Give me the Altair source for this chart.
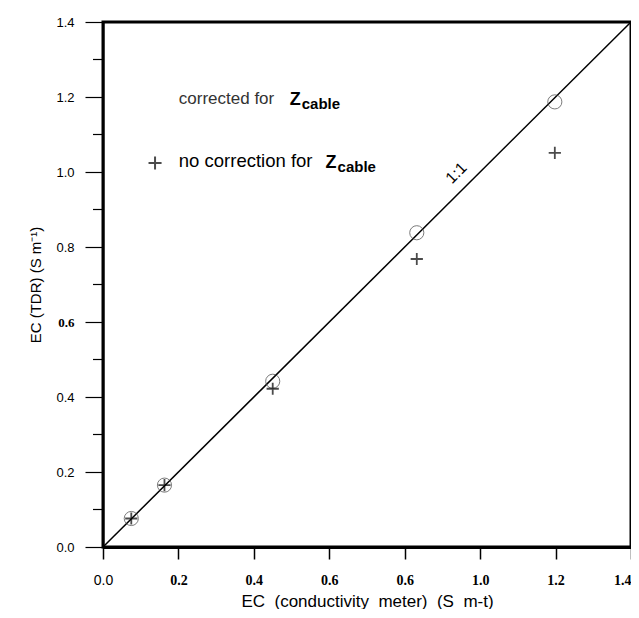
import json
import altair as alt
import pandas as pd

# ---- data ----
ec_meter = [0.075, 0.163, 0.450, 0.832, 1.198]
ec_tdr_corrected = [0.076, 0.165, 0.442, 0.838, 1.187]
ec_tdr_uncorrected = [0.076, 0.165, 0.422, 0.768, 1.051]

one_to_one = [0.0, 1.4]

x_tick_values = [round(i * 0.1, 1) for i in range(15)]
y_major_values = [round(i * 0.2, 1) for i in range(8)]
y_minor_values = [round(i * 0.2 + 0.1, 1) for i in range(7)]
x_tick_labels = ["0.0", "0.2", "0.4", "0.6", "0.6", "1.0", "1.2", "1.4"]
y_tick_labels = ["0.0", "0.2", "0.4", "0.6", "0.8", "1.0", "1.2", "1.4"]

NB = "\u00a0"
x_title = f"EC{NB} (conductivity{NB} meter){NB} (S{NB} m-t)"
y_title = "EC (TDR) (S m\u207b\u00b9)"

pts = pd.DataFrame({"x": ec_meter, "yc": ec_tdr_corrected, "yu": ec_tdr_uncorrected})
line_df = pd.DataFrame({"x": one_to_one, "y": one_to_one})
minor_df = pd.DataFrame({"v": y_minor_values})

W, H = 528, 525
dom = [0, 1.4]

xscale = alt.Scale(domain=dom, nice=False, zero=False)
yscale = alt.Scale(domain=dom, nice=False, zero=False)

even = "round(datum.value*10) % 2 == 0"

x_axis = alt.Axis(
    values=x_tick_values,
    labelExpr=f"{even} ? {json.dumps(x_tick_labels)}[round(datum.value*5)] : ''",
    ticks=True, tickSize=12, tickWidth=1.5, tickColor="black",
    labelPadding=14, labelFontSize=14, labelColor="black",
    labelFont={"condition": {"test": "datum.value < 0.05", "value": "Liberation Sans"}, "value": "Liberation Serif"},
    labelFontWeight={"condition": {"test": "datum.value < 0.05", "value": "normal"}, "value": "bold"},
    labelAlign={"condition": {"test": "datum.value > 1.35", "value": "right"}, "value": "center"},
    domain=True, domainColor="black", domainWidth=3,
    grid=False, title=x_title, titleFont="Liberation Sans",
    titleFontSize=17, titleFontWeight="normal", titleColor="black", titlePadding=6,
    labelFlush=False, labelOverlap=False,
)

y_axis = alt.Axis(
    values=y_major_values,
    labelExpr=f"{json.dumps(y_tick_labels)}[round(datum.value*5)]",
    ticks=True, tickSize=18, tickWidth=1.2, tickColor="black",
    labelPadding=11, labelFontSize=13, labelColor="black",
    labelFont={"condition": {"test": "abs(datum.value-0.6) < 0.01", "value": "Liberation Serif"}, "value": "Liberation Sans"},
    labelFontWeight={"condition": {"test": "abs(datum.value-0.6) < 0.01", "value": "bold"}, "value": "normal"},
    domain=True, domainColor="black", domainWidth=2,
    grid=False, title=y_title, titleFont="Liberation Sans",
    titleFontSize=15, titleFontWeight="normal", titleColor="black", titlePadding=12,
    labelFlush=False, labelOverlap=False,
)

base = alt.Chart(pts)

line = alt.Chart(line_df).mark_line(color="black", strokeWidth=1.5).encode(
    x=alt.X("x:Q", scale=xscale, axis=x_axis),
    y=alt.Y("y:Q", scale=yscale, axis=y_axis),
)

# minor ticks on the left axis (every 0.1 between labelled ticks)
minor = alt.Chart(minor_df).mark_rule(color="black", strokeWidth=1.2).encode(
    y=alt.Y("v:Q", scale=yscale),
    x=alt.value(-10), x2=alt.value(0),
)

circles = base.mark_point(shape="circle", size=200, filled=False, color="#444", strokeWidth=1).encode(
    x=alt.X("x:Q", scale=xscale), y=alt.Y("yc:Q", scale=yscale)
)

plus_shape = "M-1,0L1,0M0,-1L0,1"
pluses = base.mark_point(shape=plus_shape, size=150, filled=False, color="black", strokeWidth=1.8).encode(
    x=alt.X("x:Q", scale=xscale), y=alt.Y("yu:Q", scale=yscale)
)

# ---- annotations (data coordinates) ----
ann_light = pd.DataFrame({"x": [0.201], "y": [1.181], "t": ["corrected  for"]})
ann_dark = pd.DataFrame({"x": [0.201], "y": [1.013], "t": ["no correction for"]})
ann_z = pd.DataFrame({"x": [0.495, 0.590], "y": [1.179, 1.011], "t": ["Z", "Z"]})
ann_sub = pd.DataFrame({"x": [0.527, 0.622], "y": [1.168, 1.000], "t": ["cable", "cable"]})
ann_ratio = pd.DataFrame({"x": [0.937], "y": [0.997], "t": ["1:1"]})
leg_plus = pd.DataFrame({"x": [0.138], "y": [1.024]})

def txt(df, **kw):
    return alt.Chart(df).mark_text(align="left", baseline="alphabetic", **kw).encode(
        x=alt.X("x:Q", scale=xscale), y=alt.Y("y:Q", scale=yscale), text="t:N"
    )

t1 = txt(ann_light, font="Liberation Sans", fontSize=17, color="#333")
t2 = txt(ann_dark, font="Liberation Sans", fontSize=18.5, color="black")
t3 = txt(ann_z, font="Liberation Sans", fontSize=18, fontWeight="bold", color="black")
t4 = txt(ann_sub, font="Liberation Sans", fontSize=15, fontWeight="bold", color="black")
t5 = alt.Chart(ann_ratio).mark_text(align="center", baseline="middle", angle=315,
                                      font="Liberation Sans", fontSize=16, color="black").encode(
    x=alt.X("x:Q", scale=xscale), y=alt.Y("y:Q", scale=yscale), text="t:N"
)
lp = alt.Chart(leg_plus).mark_point(shape=plus_shape, size=170, filled=False, color="black", strokeWidth=2).encode(
    x=alt.X("x:Q", scale=xscale), y=alt.Y("y:Q", scale=yscale)
)

chart = alt.layer(line, minor, circles, pluses, t1, t2, t3, t4, t5, lp).properties(
    width=W, height=H,
    autosize=alt.AutoSizeParams(type="none"),
    padding={"left": 95, "top": 14, "right": 0, "bottom": 62},
).configure(background="white").configure_view(stroke="black", strokeWidth=3)

chart.save("out.html", embed_options={"renderer": "svg", "actions": False})
